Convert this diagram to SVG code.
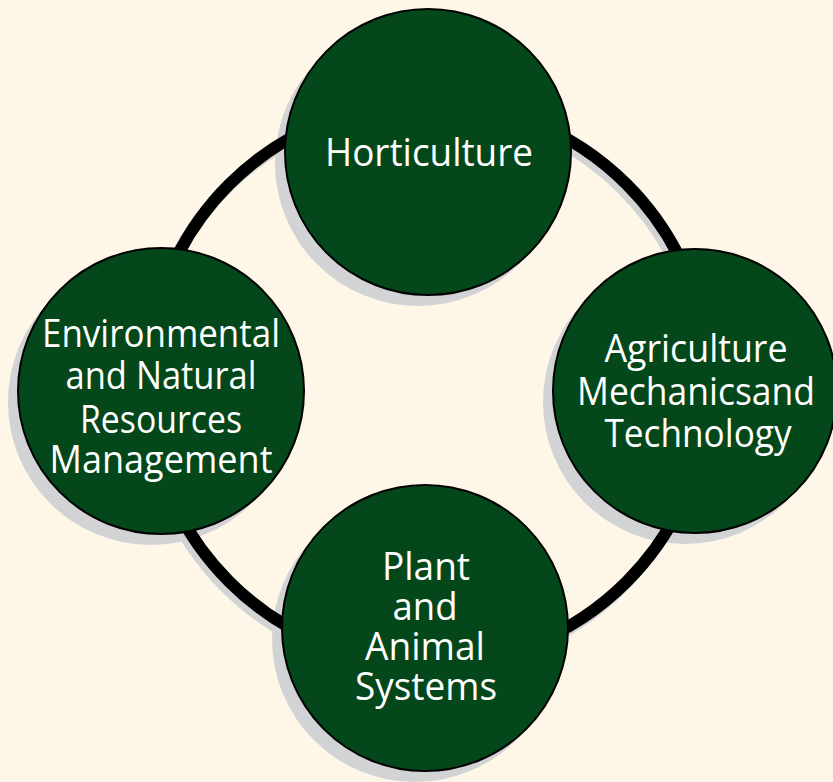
<svg xmlns="http://www.w3.org/2000/svg" width="833" height="782" viewBox="0 0 833 782">
  <style>
    .shadow { fill: #d1d3d4; }
    .ringshadow { fill: none; stroke: #d1d3d4; stroke-width: 12; }
    .ring { fill: none; stroke: #000; stroke-width: 12; }
    .node { fill: #03471a; stroke: #000; stroke-width: 2; }
    .label { fill: #fff; font-family: "Open Sans", "Noto Sans", sans-serif; font-size: 38px; text-anchor: middle; }
  </style>
  <rect width="833" height="782" fill="#fef6e6"/>
  <g id="shadows">
    <circle class="ringshadow" cx="424" cy="388" r="281"/>
    <circle class="shadow" cx="418" cy="163" r="143"/>
    <circle class="shadow" cx="685" cy="402" r="142"/>
    <circle class="shadow" cx="151" cy="402" r="143"/>
    <circle class="shadow" cx="415" cy="639" r="143"/>
  </g>
  <g id="connectors">
    <circle class="ring" cx="428" cy="383" r="281"/>
  </g>
  <g id="horticulture">
    <circle class="node" cx="428" cy="152" r="143"/>
    <text class="label" x="429" y="166" textLength="208" lengthAdjust="spacingAndGlyphs">Horticulture</text>
  </g>
  <g id="agriculture">
    <circle class="node" cx="695" cy="391" r="142"/>
    <text class="label" x="696" y="362" textLength="183" lengthAdjust="spacingAndGlyphs">Agriculture</text>
    <text class="label" x="696" y="405" textLength="238" lengthAdjust="spacingAndGlyphs">Mechanicsand</text>
    <text class="label" x="698" y="447" textLength="187" lengthAdjust="spacingAndGlyphs">Technology</text>
  </g>
  <g id="environmental">
    <circle class="node" cx="161" cy="391" r="143"/>
    <text class="label" x="161" y="347" textLength="238" lengthAdjust="spacingAndGlyphs">Environmental</text>
    <text class="label" x="161" y="389" textLength="191" lengthAdjust="spacingAndGlyphs">and Natural</text>
    <text class="label" x="161" y="433" textLength="162" lengthAdjust="spacingAndGlyphs">Resources</text>
    <text class="label" x="161" y="473" textLength="223" lengthAdjust="spacingAndGlyphs">Management</text>
  </g>
  <g id="plant">
    <circle class="node" cx="425" cy="628" r="143"/>
    <text class="label" x="426" y="580" textLength="88" lengthAdjust="spacingAndGlyphs">Plant</text>
    <text class="label" x="425" y="620" textLength="65" lengthAdjust="spacingAndGlyphs">and</text>
    <text class="label" x="425" y="660" textLength="120" lengthAdjust="spacingAndGlyphs">Animal</text>
    <text class="label" x="426" y="700" textLength="142" lengthAdjust="spacingAndGlyphs">Systems</text>
  </g>
</svg>
